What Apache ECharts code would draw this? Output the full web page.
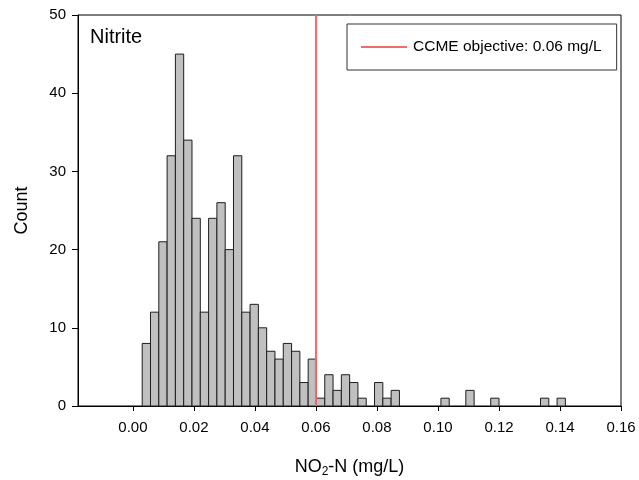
<!DOCTYPE html>
<html>
<head>
<meta charset="utf-8">
<script src="https://cdn.jsdelivr.net/npm/echarts@6/dist/echarts.min.js"></script>
<style>
  html, body { margin: 0; padding: 0; background: #fff; }
  #chart { width: 639px; height: 480px; }
</style>
</head>
<body>
<div id="chart"></div>
<script>
// histogram bins (mg/L) and counts
const binStart = 0.00305;
const binWidth = 0.00272;
const counts = [8, 12, 21, 32, 45, 34, 24, 12, 24, 26,
                20, 32, 12, 13, 10, 7, 6, 8, 7, 3,
                6, 1, 4, 2, 4, 3, 1, 0, 3, 1,
                2, 0, 0, 0, 0, 0, 1, 0, 0, 2,
                0, 0, 1, 0, 0, 0, 0, 0, 1, 0, 1];
const xTicks = [0, 0.02, 0.04, 0.06, 0.08, 0.10, 0.12, 0.14, 0.16];
const objective = 0.06;
const objectiveLabel = 'CCME objective: 0.06 mg/L';

const font = 'Liberation Sans, Arial, sans-serif';

const bins = [];
counts.forEach((c, i) => {
    if (c > 0) bins.push([binStart + i * binWidth, binStart + (i + 1) * binWidth, c]);
});

const chart = echarts.init(document.getElementById('chart'));
chart.setOption({
    animation: false,
    textStyle: { fontFamily: font, color: '#000' },
    grid: {
        left: 78, right: 18, top: 15, bottom: 74,
        outerBoundsMode: 'none',
        show: true, borderColor: '#000', borderWidth: 1
    },
    graphic: [{
        type: 'text', left: 90, top: 27,
        style: { text: 'Nitrite', fontSize: 20, fontFamily: font, fill: '#000' }
    }],
    legend: {
        data: [{ name: objectiveLabel, icon: 'rect' }],
        left: 347, top: 24,
        padding: [15, 15, 15, 14],
        itemWidth: 46, itemHeight: 2, itemGap: 10,
        borderColor: '#333', borderWidth: 1, backgroundColor: '#fff',
        textStyle: { fontFamily: font, fontSize: 15.5, color: '#000', padding: [0, 0, 0, 1] }
    },
    xAxis: {
        type: 'value', min: -0.018, max: 0.16,
        name: 'NO{sub|2}-N (mg/L)', nameLocation: 'middle', nameGap: 50,
        nameTextStyle: {
            fontFamily: font, fontSize: 18, color: '#000',
            rich: { sub: { fontSize: 12, padding: [10, 0, 0, 0], fontFamily: font } }
        },
        axisLine: { onZero: false, lineStyle: { color: '#000', width: 1 } },
        axisTick: { show: true, length: 5, inside: false, customValues: xTicks, lineStyle: { color: '#000' } },
        axisLabel: {
            customValues: xTicks, margin: 14, fontSize: 15, color: '#000', fontFamily: font,
            formatter: v => v.toFixed(2)
        },
        splitLine: { show: false }
    },
    yAxis: {
        type: 'value', min: 0, max: 50, interval: 10,
        name: 'Count', nameLocation: 'middle', nameGap: 47,
        nameTextStyle: { fontFamily: font, fontSize: 18, color: '#000' },
        axisLine: { show: true, onZero: false, lineStyle: { color: '#000', width: 1 } },
        axisTick: { show: true, length: 6, inside: false, lineStyle: { color: '#000' } },
        axisLabel: { margin: 12, fontSize: 15, color: '#000', fontFamily: font },
        splitLine: { show: false }
    },
    series: [{
        type: 'custom',
        name: 'counts',
        data: bins,
        encode: { x: [0, 1], y: 2 },
        renderItem: function (params, api) {
            const p0 = api.coord([api.value(0), api.value(2)]);
            const p1 = api.coord([api.value(1), 0]);
            return {
                type: 'rect',
                shape: { x: p0[0], y: p0[1], width: p1[0] - p0[0], height: p1[1] - p0[1] },
                style: { fill: '#c0c0c0', stroke: '#1e1e1e', lineWidth: 1 }
            };
        }
    }, {
        type: 'line',
        name: objectiveLabel,
        data: [[objective, 0], [objective, 50]],
        symbol: 'none',
        lineStyle: { color: '#f26a6a', width: 2 },
        itemStyle: { color: '#f26a6a' },
        z: 5
    }]
});
</script>
</body>
</html>
